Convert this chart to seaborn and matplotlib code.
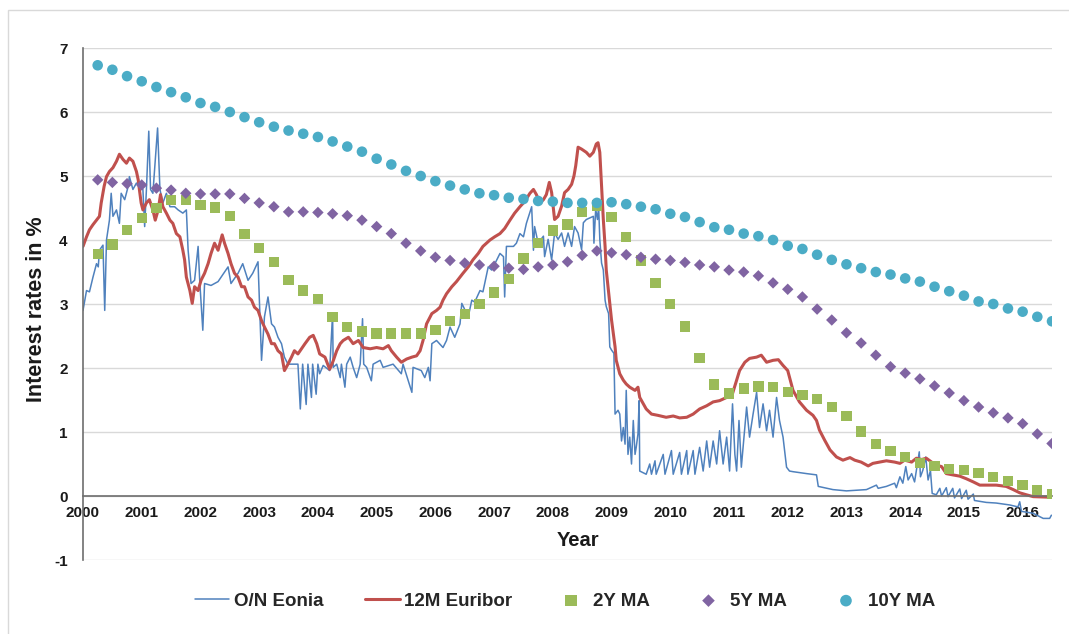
import numpy as np
import pandas as pd
import matplotlib
matplotlib.use("Agg")
import matplotlib.pyplot as plt
import seaborn as sns
from matplotlib.patches import Rectangle

# daily rates as (year, rate in %)
EONIA = [
    (2000.00, 2.90), (2000.03, 3.06), (2000.06, 3.21), (2000.11, 3.19), (2000.17, 3.42),
    (2000.23, 3.63), (2000.26, 3.58), (2000.28, 3.84), (2000.34, 3.92), (2000.37, 2.90),
    (2000.40, 4.00), (2000.45, 4.31), (2000.48, 4.73), (2000.51, 4.37), (2000.57, 4.47),
    (2000.62, 4.26), (2000.65, 4.73), (2000.71, 4.63), (2000.77, 4.84), (2000.79, 4.99),
    (2000.85, 4.79), (2000.91, 4.89), (2000.96, 4.84), (2001.02, 4.79), (2001.05, 4.21),
    (2001.08, 4.79), (2001.12, 5.70), (2001.15, 4.79), (2001.19, 4.73), (2001.27, 5.75),
    (2001.31, 4.79), (2001.36, 4.58), (2001.42, 4.73), (2001.48, 4.52), (2001.56, 4.52),
    (2001.62, 4.47), (2001.70, 4.42), (2001.76, 4.47), (2001.79, 3.84), (2001.84, 3.32),
    (2001.90, 3.37), (2001.96, 3.90), (2001.99, 3.32), (2002.04, 2.59), (2002.07, 3.32),
    (2002.18, 3.29), (2002.30, 3.35), (2002.47, 3.58), (2002.52, 3.32), (2002.64, 3.48),
    (2002.72, 3.63), (2002.81, 3.37), (2002.89, 3.48), (2002.98, 3.66), (2003.01, 2.90),
    (2003.04, 2.12), (2003.09, 2.80), (2003.15, 3.11), (2003.21, 2.69), (2003.26, 2.64),
    (2003.32, 2.48), (2003.38, 2.38), (2003.43, 2.17), (2003.49, 2.06), (2003.55, 2.06),
    (2003.66, 2.06), (2003.70, 1.36), (2003.74, 2.06), (2003.80, 1.43), (2003.83, 2.06),
    (2003.89, 1.54), (2003.91, 2.06), (2003.97, 1.59), (2004.00, 2.06), (2004.03, 1.91),
    (2004.09, 2.04), (2004.20, 1.96), (2004.25, 2.85), (2004.26, 2.01), (2004.32, 2.06),
    (2004.38, 1.85), (2004.40, 2.06), (2004.46, 1.70), (2004.49, 2.06), (2004.55, 2.17),
    (2004.60, 2.01), (2004.66, 1.85), (2004.72, 2.06), (2004.76, 2.77), (2004.78, 2.06),
    (2004.83, 2.01), (2004.91, 1.80), (2004.94, 2.06), (2005.06, 2.12), (2005.11, 2.01),
    (2005.28, 2.06), (2005.42, 1.91), (2005.45, 2.06), (2005.60, 1.62), (2005.62, 2.01),
    (2005.76, 1.96), (2005.82, 1.85), (2005.88, 2.01), (2005.91, 1.80), (2005.94, 2.38),
    (2006.02, 2.43), (2006.13, 2.32), (2006.19, 2.43), (2006.25, 2.64), (2006.33, 2.48),
    (2006.42, 2.69), (2006.45, 3.01), (2006.56, 2.80), (2006.62, 3.06), (2006.67, 3.03),
    (2006.76, 3.21), (2006.81, 3.19), (2006.90, 3.58), (2006.96, 3.53), (2007.10, 3.79),
    (2007.16, 3.74), (2007.18, 3.11), (2007.21, 3.90), (2007.33, 3.90), (2007.38, 3.95),
    (2007.44, 4.10), (2007.50, 4.05), (2007.55, 4.26), (2007.64, 4.52), (2007.67, 3.84),
    (2007.69, 4.21), (2007.75, 3.95), (2007.84, 4.06), (2007.86, 3.74), (2007.92, 4.01),
    (2007.98, 3.69), (2008.03, 4.11), (2008.09, 4.01), (2008.15, 4.11), (2008.20, 3.90),
    (2008.26, 4.11), (2008.32, 3.90), (2008.37, 4.21), (2008.43, 4.11), (2008.49, 3.85),
    (2008.52, 4.27), (2008.57, 4.32), (2008.69, 4.37), (2008.70, 3.95), (2008.73, 4.48),
    (2008.76, 4.32), (2008.78, 4.53), (2008.80, 4.01), (2008.83, 3.64), (2008.86, 3.53),
    (2008.89, 3.06), (2008.91, 2.96), (2008.95, 2.85), (2008.97, 2.33), (2009.00, 2.28),
    (2009.04, 2.23), (2009.06, 1.28), (2009.11, 1.34), (2009.14, 1.28), (2009.17, 0.86),
    (2009.20, 1.07), (2009.23, 0.81), (2009.25, 1.65), (2009.28, 0.65), (2009.31, 0.92),
    (2009.34, 0.50), (2009.37, 1.18), (2009.40, 0.65), (2009.42, 0.76), (2009.45, 0.97),
    (2009.47, 1.49), (2009.48, 0.39), (2009.59, 0.34), (2009.65, 0.50), (2009.68, 0.34),
    (2009.74, 0.55), (2009.76, 0.34), (2009.88, 0.65), (2009.91, 0.34), (2010.02, 0.71),
    (2010.05, 0.34), (2010.16, 0.68), (2010.19, 0.34), (2010.28, 0.71), (2010.30, 0.34),
    (2010.39, 0.71), (2010.42, 0.34), (2010.50, 0.76), (2010.56, 0.39), (2010.62, 0.86),
    (2010.67, 0.45), (2010.73, 0.86), (2010.79, 0.50), (2010.84, 1.02), (2010.90, 0.50),
    (2010.96, 0.92), (2011.01, 0.39), (2011.06, 1.44), (2011.10, 0.65), (2011.13, 0.39),
    (2011.17, 1.18), (2011.21, 0.45), (2011.30, 1.39), (2011.35, 0.92), (2011.41, 1.28),
    (2011.47, 1.62), (2011.52, 1.07), (2011.58, 1.44), (2011.64, 1.02), (2011.69, 1.34),
    (2011.75, 0.92), (2011.81, 1.54), (2011.86, 1.18), (2011.92, 0.92), (2011.98, 0.45),
    (2012.03, 0.39), (2012.09, 0.38), (2012.32, 0.35), (2012.49, 0.33), (2012.52, 0.15),
    (2012.77, 0.10), (2013.00, 0.08), (2013.34, 0.10), (2013.51, 0.17), (2013.54, 0.12),
    (2013.68, 0.15), (2013.82, 0.20), (2013.85, 0.13), (2013.91, 0.30), (2013.96, 0.20),
    (2014.01, 0.46), (2014.05, 0.25), (2014.11, 0.35), (2014.16, 0.22), (2014.24, 0.69),
    (2014.26, 0.30), (2014.30, 0.40), (2014.35, 0.61), (2014.39, 0.25), (2014.43, 0.40),
    (2014.46, 0.04), (2014.53, 0.02), (2014.59, 0.12), (2014.62, 0.00), (2014.70, 0.13),
    (2014.73, -0.01), (2014.81, 0.12), (2014.84, -0.03), (2014.93, 0.11), (2014.96, -0.04),
    (2015.04, 0.09), (2015.07, -0.05), (2015.16, 0.03), (2015.18, -0.07), (2015.38, -0.10),
    (2015.55, -0.11), (2015.78, -0.14), (2015.92, -0.17), (2015.95, -0.09), (2015.98, -0.24),
    (2016.18, -0.27), (2016.35, -0.35), (2016.46, -0.35), (2016.49, -0.30),
]

EURIBOR_12M = [
    (2000.00, 3.90), (2000.06, 4.05), (2000.11, 4.16), (2000.17, 4.24), (2000.23, 4.31),
    (2000.28, 4.37), (2000.31, 4.58), (2000.36, 4.84), (2000.40, 4.99), (2000.45, 5.07),
    (2000.51, 5.13), (2000.57, 5.23), (2000.62, 5.34), (2000.68, 5.26), (2000.74, 5.20),
    (2000.79, 5.28), (2000.85, 5.23), (2000.91, 5.07), (2000.94, 4.94), (2000.96, 4.79),
    (2000.99, 4.58), (2001.02, 4.47), (2001.08, 4.58), (2001.13, 4.63), (2001.19, 4.47),
    (2001.23, 4.31), (2001.28, 4.47), (2001.32, 4.71), (2001.36, 4.52), (2001.42, 4.42),
    (2001.48, 4.31), (2001.53, 4.26), (2001.59, 4.10), (2001.65, 4.05), (2001.70, 3.84),
    (2001.73, 3.69), (2001.76, 3.42), (2001.82, 3.21), (2001.86, 3.01), (2001.90, 3.27),
    (2001.96, 3.21), (2002.01, 3.37), (2002.07, 3.48), (2002.13, 3.63), (2002.18, 3.79),
    (2002.24, 3.95), (2002.30, 3.84), (2002.37, 4.08), (2002.41, 3.95), (2002.47, 3.79),
    (2002.52, 3.63), (2002.58, 3.48), (2002.64, 3.42), (2002.70, 3.27), (2002.75, 3.27),
    (2002.81, 3.11), (2002.87, 3.06), (2002.92, 2.95), (2002.98, 2.90), (2003.04, 2.74),
    (2003.09, 2.64), (2003.15, 2.53), (2003.21, 2.38), (2003.26, 2.38), (2003.32, 2.27),
    (2003.38, 2.22), (2003.43, 1.96), (2003.49, 2.06), (2003.55, 2.17), (2003.60, 2.27),
    (2003.66, 2.22), (2003.78, 2.38), (2003.86, 2.48), (2003.92, 2.51), (2003.98, 2.38),
    (2004.03, 2.22), (2004.12, 2.17), (2004.20, 1.98), (2004.26, 2.11), (2004.32, 2.27),
    (2004.38, 2.38), (2004.43, 2.43), (2004.52, 2.48), (2004.60, 2.38), (2004.69, 2.43),
    (2004.77, 2.32), (2004.89, 2.30), (2005.00, 2.32), (2005.11, 2.30), (2005.20, 2.35),
    (2005.25, 2.27), (2005.34, 2.17), (2005.42, 2.09), (2005.51, 2.14), (2005.60, 2.17),
    (2005.68, 2.19), (2005.74, 2.27), (2005.79, 2.43), (2005.85, 2.69), (2005.94, 2.85),
    (2006.02, 2.90), (2006.08, 2.95), (2006.13, 3.06), (2006.19, 3.16), (2006.28, 3.27),
    (2006.36, 3.35), (2006.47, 3.48), (2006.56, 3.58), (2006.64, 3.69), (2006.73, 3.79),
    (2006.81, 3.90), (2006.93, 4.00), (2007.01, 4.05), (2007.10, 4.10), (2007.18, 4.18),
    (2007.27, 4.31), (2007.35, 4.42), (2007.44, 4.52), (2007.52, 4.60), (2007.61, 4.73),
    (2007.67, 4.79), (2007.72, 4.71), (2007.78, 4.58), (2007.84, 4.63), (2007.89, 4.71),
    (2007.94, 4.90), (2007.98, 4.74), (2008.03, 4.32), (2008.09, 4.37), (2008.15, 4.53),
    (2008.20, 4.74), (2008.26, 4.79), (2008.32, 4.87), (2008.36, 5.00), (2008.39, 5.16),
    (2008.43, 5.45), (2008.49, 5.42), (2008.57, 5.37), (2008.63, 5.31), (2008.69, 5.37),
    (2008.74, 5.50), (2008.77, 5.52), (2008.80, 5.37), (2008.83, 4.84), (2008.86, 4.32),
    (2008.89, 3.90), (2008.91, 3.53), (2008.94, 3.27), (2008.97, 3.01), (2009.00, 2.75),
    (2009.03, 2.54), (2009.06, 2.33), (2009.08, 2.12), (2009.14, 1.91), (2009.20, 1.81),
    (2009.25, 1.75), (2009.31, 1.70), (2009.40, 1.65), (2009.45, 1.70), (2009.48, 1.54),
    (2009.54, 1.44), (2009.59, 1.36), (2009.68, 1.28), (2009.79, 1.26), (2009.93, 1.23),
    (2010.05, 1.25), (2010.16, 1.22), (2010.28, 1.23), (2010.39, 1.28), (2010.50, 1.36),
    (2010.62, 1.41), (2010.73, 1.47), (2010.84, 1.49), (2010.96, 1.54), (2011.04, 1.54),
    (2011.13, 1.81), (2011.18, 1.96), (2011.27, 2.09), (2011.35, 2.15), (2011.47, 2.17),
    (2011.55, 2.20), (2011.64, 2.09), (2011.75, 2.12), (2011.84, 2.13), (2011.92, 2.04),
    (2012.00, 1.96), (2012.09, 1.65), (2012.20, 1.47), (2012.32, 1.34), (2012.43, 1.26),
    (2012.49, 1.18), (2012.54, 1.03), (2012.63, 0.87), (2012.72, 0.72), (2012.83, 0.61),
    (2012.94, 0.56), (2013.06, 0.60), (2013.14, 0.56), (2013.25, 0.53), (2013.37, 0.47),
    (2013.45, 0.51), (2013.57, 0.53), (2013.68, 0.55), (2013.82, 0.53), (2013.91, 0.51),
    (2013.99, 0.56), (2014.11, 0.53), (2014.19, 0.59), (2014.28, 0.57), (2014.36, 0.59),
    (2014.45, 0.53), (2014.53, 0.48), (2014.62, 0.46), (2014.70, 0.35), (2014.81, 0.33),
    (2014.93, 0.31), (2015.04, 0.27), (2015.16, 0.22), (2015.27, 0.17), (2015.55, 0.17),
    (2015.72, 0.15), (2015.84, 0.10), (2015.95, 0.05), (2016.06, 0.02), (2016.18, -0.01),
    (2016.49, -0.02),
]

# quarter-end dates of the moving averages, 2000 Q1 .. 2016 Q2
QUARTERS = np.arange(2000.25, 2016.51, 0.25)

MA_2Y = [
    3.78, 3.93, 4.16, 4.34, 4.50, 4.63, 4.62, 4.55, 4.51, 4.37, 4.09, 3.87, 3.66, 3.37,
    3.21, 3.08, 2.80, 2.64, 2.57, 2.54, 2.54, 2.54, 2.54, 2.59, 2.73, 2.84, 3.00, 3.18,
    3.39, 3.71, 3.95, 4.15, 4.24, 4.44, 4.54, 4.36, 4.05, 3.68, 3.33, 3.00, 2.65, 2.16,
    1.74, 1.60, 1.68, 1.71, 1.70, 1.63, 1.58, 1.52, 1.39, 1.25, 1.01, 0.81, 0.70, 0.61,
    0.52, 0.47, 0.42, 0.41, 0.36, 0.30, 0.23, 0.17, 0.09, 0.03,
]
MA_5Y = [
    4.94, 4.90, 4.88, 4.86, 4.81, 4.78, 4.73, 4.72, 4.72, 4.72, 4.65, 4.58, 4.52, 4.44,
    4.44, 4.43, 4.41, 4.38, 4.31, 4.21, 4.10, 3.95, 3.83, 3.73, 3.68, 3.64, 3.61, 3.59,
    3.56, 3.54, 3.58, 3.61, 3.66, 3.76, 3.83, 3.80, 3.77, 3.73, 3.70, 3.68, 3.65, 3.61,
    3.58, 3.53, 3.50, 3.44, 3.33, 3.23, 3.11, 2.92, 2.75, 2.55, 2.39, 2.20, 2.02, 1.92,
    1.83, 1.72, 1.61, 1.49, 1.39, 1.30, 1.22, 1.13, 0.97, 0.82,
]
MA_10Y = [
    6.73, 6.66, 6.56, 6.48, 6.39, 6.31, 6.23, 6.14, 6.08, 6.00, 5.92, 5.84, 5.77, 5.71,
    5.66, 5.61, 5.54, 5.46, 5.38, 5.27, 5.18, 5.08, 5.00, 4.92, 4.85, 4.79, 4.73, 4.70,
    4.66, 4.64, 4.61, 4.60, 4.58, 4.58, 4.58, 4.59, 4.56, 4.52, 4.48, 4.41, 4.36, 4.28,
    4.20, 4.16, 4.10, 4.06, 4.00, 3.91, 3.86, 3.77, 3.69, 3.62, 3.56, 3.50, 3.46, 3.40,
    3.35, 3.27, 3.20, 3.13, 3.04, 3.00, 2.93, 2.88, 2.80, 2.73,
]

YEARS = list(range(2000, 2017))

sns.set_theme(style="white")
plt.rcParams["font.family"] = ["Liberation Sans", "DejaVu Sans"]
plt.rcParams["axes.unicode_minus"] = False

W, H = 1069, 634
fig = plt.figure(figsize=(W / 100, H / 100), dpi=100)
ax = fig.add_axes([83 / W, 1 - 560 / H, (1052 - 83) / W, (560 - 48) / H])

eonia = pd.DataFrame(EONIA, columns=["year", "rate"])
euribor = pd.DataFrame(EURIBOR_12M, columns=["year", "rate"])

sns.lineplot(data=eonia, x="year", y="rate", ax=ax, color="#4F81BD", linewidth=1.1,
             estimator=None, sort=False, label="O/N Eonia")
sns.lineplot(data=euribor, x="year", y="rate", ax=ax, color="#C0504D", linewidth=2.2,
             estimator=None, sort=False, label="12M Euribor")
sns.scatterplot(x=QUARTERS, y=MA_2Y, ax=ax, marker="s", s=55, color="#9BBB59",
                edgecolor="none", label="2Y MA", zorder=3)
sns.scatterplot(x=QUARTERS, y=MA_5Y, ax=ax, marker="D", s=34, color="#8064A2",
                edgecolor="none", label="5Y MA", zorder=3)
sns.scatterplot(x=QUARTERS, y=MA_10Y, ax=ax, marker="o", s=58, color="#4BACC6",
                edgecolor="none", label="10Y MA", zorder=3)

ax.set_xlim(2000, 2016.5)
ax.set_ylim(-1, 7)
ax.set_xticks(YEARS)
ax.set_xticklabels([str(y) for y in YEARS])
ax.set_yticks(range(-1, 8))

ax.yaxis.grid(True, color="#d9d9d9", linewidth=1)
ax.xaxis.grid(False)
ax.set_axisbelow(True)

for side in ["top", "right"]:
    ax.spines[side].set_visible(False)
ax.spines["bottom"].set_position(("data", 0))
for side in ["left", "bottom"]:
    ax.spines[side].set_color("#6e6e6e")
    ax.spines[side].set_linewidth(1.2)

ax.tick_params(axis="x", direction="out", length=3, width=1, color="#6e6e6e",
               pad=4, labelsize=11)
ax.tick_params(axis="y", length=0, pad=11, labelsize=11)
for lab in ax.get_xticklabels() + ax.get_yticklabels():
    lab.set_fontweight("bold")
    lab.set_color("#1a1a1a")

ax.set_xlabel("Year", fontsize=14.5, fontweight="bold", color="#1a1a1a")
ax.xaxis.set_label_coords(0.511, 0.039)
ax.xaxis.label.set_va("center")
ax.set_ylabel("Interest rates in %", fontsize=15.5, fontweight="bold", color="#1a1a1a")
ax.yaxis.set_label_coords(-0.0485, 0.489)
ax.yaxis.label.set_va("center")

handles, labels = ax.get_legend_handles_labels()
ax.get_legend().remove()
fig.legend(handles, labels, loc="center", bbox_to_anchor=(565 / W, 1 - 601 / H),
           ncol=5, frameon=False, prop={"weight": "bold", "size": 13.5},
           handlelength=1.85, handletextpad=0.25, columnspacing=2.2, markerscale=1.1)

# light frame round the chart, open to the right and bottom
fig.patches.append(Rectangle((8 / W, -0.1), 1.2, 1 - 10 / H + 0.1, transform=fig.transFigure,
                             fill=False, edgecolor="#d9d9d9", linewidth=1))

fig.savefig("out.png", dpi=100)
